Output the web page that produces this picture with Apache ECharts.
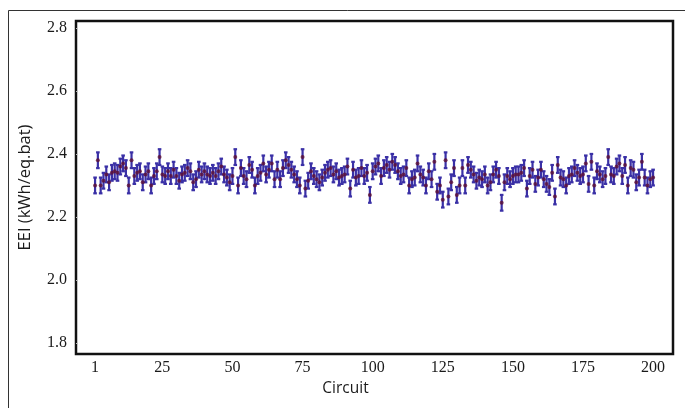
<!DOCTYPE html>
<html>
<head>
<meta charset="utf-8">
<script src="https://cdn.jsdelivr.net/npm/echarts@6/dist/echarts.min.js"></script>
<style>html,body{margin:0;padding:0;background:#fff}#c{width:685px;height:408px}</style>
</head>
<body>
<div id="c"></div>
<script>
// EEI mean values per circuit, circuits 1..200
const eeiA = [2.30,2.38,2.30,2.315,2.335,2.31,2.34,2.345,2.34,2.36,
2.37,2.355,2.30,2.38,2.33,2.34,2.345,2.31,2.335,2.345,
2.30,2.33,2.345,2.39,2.335,2.33,2.345,2.33,2.35,2.33,
2.315,2.335,2.34,2.355,2.345,2.31,2.32,2.35,2.335,2.345,
2.335,2.33,2.34,2.33,2.345,2.36,2.335,2.325,2.31,2.33,2.39];
const eeiB = [2.30,2.355,2.33,2.32,2.365,2.35,2.30,2.33,2.34,2.37,
2.335,2.35,2.37,2.32,2.35,2.32,2.355,2.38,2.365,2.35,
2.335,2.32,2.30,2.39,2.29,2.315,2.345,2.33,2.32,2.31,
2.325,2.34,2.35,2.355,2.335,2.345,2.325,2.33,2.335,2.36,
2.29,2.35,2.325,2.33,2.355,2.33,2.34,2.27];
const eeiC = [2.345,2.36,2.37,2.33,2.355,2.365,2.35,2.375,2.365,2.345,
2.33,2.335,2.355,2.30,2.32,2.325,2.37,2.335,2.325,2.30,
2.345,2.32,2.375,2.28,2.30,2.255,2.38,2.265,2.31,2.355,
2.27,2.30,2.355,2.30,2.365,2.35,2.335,2.315,2.325,2.32,
2.335,2.30,2.31,2.335,2.35,2.33,2.245,2.31,2.33,2.32,2.33];
const eeiD = [2.335,2.335,2.34,2.355,2.29,2.33,2.35,2.305,2.325,
2.35,2.32,2.305,2.295,2.34,2.265,2.365,2.325,2.32,2.30,
2.33,2.335,2.355,2.34,2.33,2.335,2.37,2.305,2.375,2.30,
2.345,2.335,2.32,2.33,2.39,2.335,2.33,2.36,2.37,2.33,
2.365,2.30,2.355,2.35,2.31,2.325,2.375,2.325,2.30,2.32,2.325];
// half-length of the error bars
const errorHalf = 0.025;
// tick labels
const xTicks = [1,25,50,75,100,125,150,175,200];
const yTicks = [1.8,2.0,2.2,2.4,2.6,2.8];

const eei = eeiA.concat(eeiB, eeiC, eeiD);
const points = eei.map((v, i) => [i + 1, v]);
const bars = eei.map((v, i) => [i + 1, v - errorHalf, v + errorHalf]);

const chart = echarts.init(document.getElementById('c'), null, {renderer: 'canvas'});
chart.setOption({
  animation: false,
  backgroundColor: '#fff',
  graphic: [{
    type: 'rect', left: 6, top: 8, silent: true, z: -1,
    shape: {width: 690, height: 410},
    style: {fill: 'none', stroke: '#333', lineWidth: 1}
  }],
  grid: {left: 76, right: 12, top: 21, bottom: 54, show: true,
         borderColor: '#111', borderWidth: 2.5, backgroundColor: '#fff'},
  xAxis: {
    type: 'value', min: -5.8, max: 207.1,
    name: 'Circuit', nameLocation: 'middle', nameGap: 26,
    nameTextStyle: {fontFamily: 'Open Sans', fontSize: 15.5, color: '#1a1a1a', padding: [0, 58, 0, 0]},
    axisLine: {show: false, onZero: false},
    axisTick: {show: false},
    splitLine: {show: false},
    axisLabel: {customValues: xTicks, fontFamily: 'Liberation Serif', fontSize: 16, color: '#1a1a1a', margin: 6}
  },
  yAxis: {
    type: 'value', min: 1.765, max: 2.822,
    name: 'EEI (kWh/eq.bat)', nameLocation: 'middle', nameGap: 42,
    nameTextStyle: {fontFamily: 'Open Sans', fontSize: 16.5, color: '#1a1a1a'},
    axisLine: {show: false, onZero: false},
    axisTick: {show: true, inside: true, length: 2, customValues: yTicks, lineStyle: {color: '#bbb'}},
    splitLine: {show: false},
    axisLabel: {customValues: yTicks, fontFamily: 'Liberation Serif', fontSize: 16, color: '#1a1a1a', margin: 9,
                formatter: v => v.toFixed(1)}
  },
  series: [{
    type: 'custom',
    data: bars,
    renderItem: function (params, api) {
      const x = api.value(0);
      const lo = api.coord([x, api.value(1)]);
      const hi = api.coord([x, api.value(2)]);
      const cw = 1.8;
      const st = {stroke: '#3a30a6', lineWidth: 2.2};
      return {type: 'group', children: [
        {type: 'line', shape: {x1: lo[0], y1: lo[1], x2: hi[0], y2: hi[1]}, style: st},
        {type: 'line', shape: {x1: lo[0]-cw, y1: lo[1], x2: lo[0]+cw, y2: lo[1]}, style: st},
        {type: 'line', shape: {x1: hi[0]-cw, y1: hi[1], x2: hi[0]+cw, y2: hi[1]}, style: st}
      ]};
    },
    encode: {x: 0, y: [1, 2]}
  }, {
    type: 'scatter',
    data: points,
    symbol: 'circle',
    symbolSize: 4,
    itemStyle: {color: '#5c0f34'},
    z: 3
  }]
});
</script>
</body>
</html>
